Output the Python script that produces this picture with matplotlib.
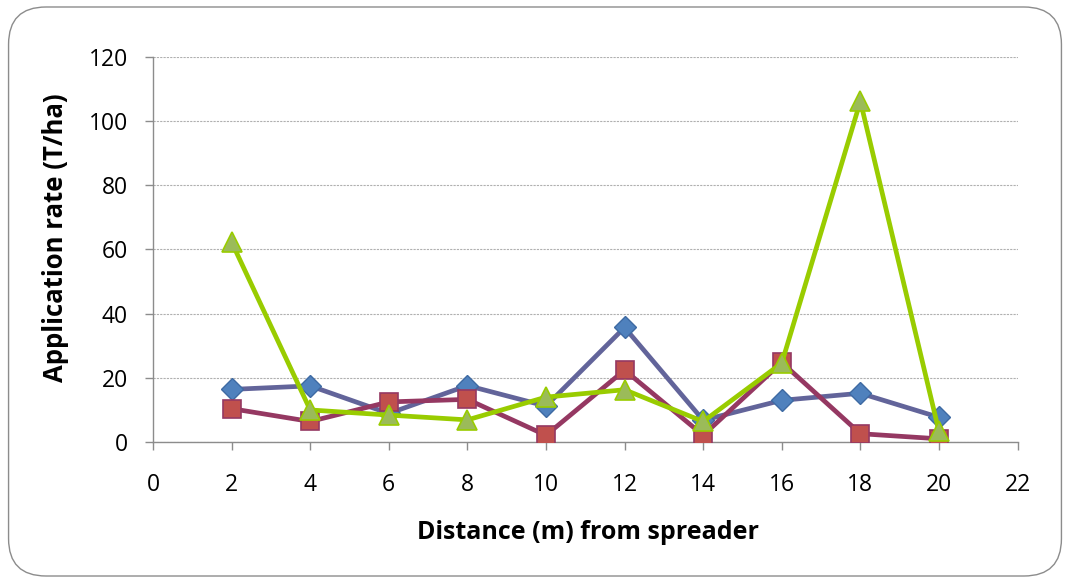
import matplotlib
matplotlib.use("Agg")
import matplotlib.pyplot as plt
from matplotlib.patches import FancyBboxPatch

# distance from spreader (m)
distance = [2, 4, 6, 8, 10, 12, 14, 16, 18, 20]

# application rate (T/ha), three passes
rate_diamond = [16.4, 17.5, 8.9, 17.6, 11.2, 35.7, 6.8, 13.0, 15.2, 7.7]
rate_square = [10.4, 6.4, 12.5, 13.3, 2.1, 22.4, 2.1, 24.8, 2.6, 1.0]
rate_triangle = [62.3, 10.0, 8.4, 6.9, 14.0, 16.3, 6.4, 24.6, 106.2, 3.3]

x_ticks = list(range(0, 24, 2))
y_ticks = list(range(0, 140, 20))

plt.rcParams["font.family"] = ["Open Sans", "DejaVu Sans"]

fig = plt.figure(figsize=(10.7, 5.83), dpi=100)
ax = fig.add_axes([0.143, 0.2418, 0.808, 0.6605])

# rounded chart border
border = FancyBboxPatch((0.008, 0.012), 0.984, 0.976,
                        boxstyle="round,pad=0,rounding_size=0.035",
                        transform=fig.transFigure, facecolor="none",
                        edgecolor="#8c8c8c", linewidth=1.0, mutation_aspect=1.83)
fig.patches.append(border)

ax.plot(distance, rate_diamond, color="#62649A", linewidth=3.4, marker="D",
        markersize=11, markerfacecolor="#4F81BD", markeredgecolor="#3E6AA3",
        markeredgewidth=1.0, zorder=3)
ax.plot(distance, rate_square, color="#953862", linewidth=3.4, marker="s",
        markersize=13, markerfacecolor="#C0504D", markeredgecolor="#953862",
        markeredgewidth=1.2, zorder=4)
ax.plot(distance, rate_triangle, color="#99CC00", linewidth=3.4, marker="^",
        markersize=15, markerfacecolor="#9BBB59", markeredgecolor="#99CC00",
        markeredgewidth=1.2, zorder=5)

ax.set_xlim(0, 22)
ax.set_ylim(0, 120)
ax.set_xticks(x_ticks)
ax.set_yticks(y_ticks)
ax.tick_params(labelsize=16.5, colors="#000000", length=6, width=1,
               color="#8c8c8c", direction="out")
ax.tick_params(axis="x", pad=16)
ax.tick_params(axis="y", pad=12)

for side in ("top", "right"):
    ax.spines[side].set_visible(False)
for side in ("left", "bottom"):
    ax.spines[side].set_color("#8c8c8c")
    ax.spines[side].set_linewidth(1.0)

ax.grid(axis="y", color="#b0b0b0", linestyle=(0, (2, 1)), linewidth=0.8)
ax.set_axisbelow(True)

ax.set_xlabel("Distance (m) from spreader", fontsize=18, fontweight="bold", va="center")
ax.set_ylabel("Application rate (T/ha)", fontsize=18.5, fontweight="bold", va="center")
ax.xaxis.set_label_coords(0.503, -0.234)
ax.yaxis.set_label_coords(-0.113, 0.53)

fig.savefig("out.png", dpi=100)
